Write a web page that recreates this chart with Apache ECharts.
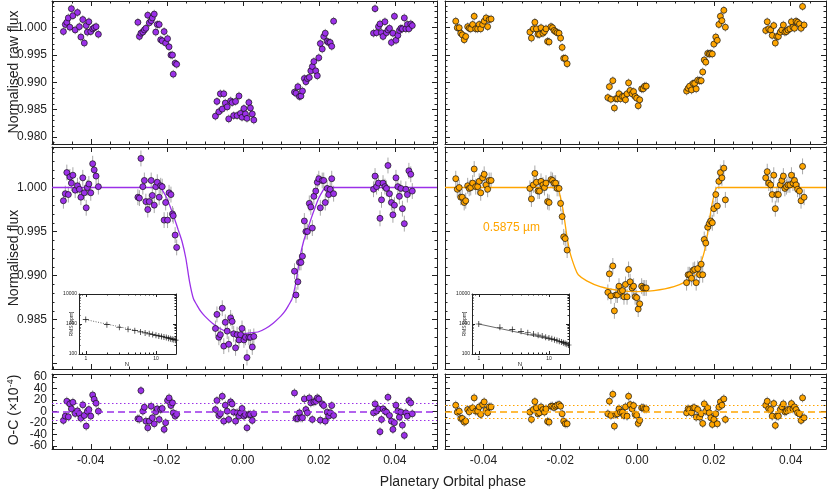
<!DOCTYPE html>
<html>
<head>
<meta charset="utf-8">
<script src="https://cdn.jsdelivr.net/npm/echarts@6/dist/echarts.min.js"></script>
<style>
html, body { margin: 0; padding: 0; background: #fff; }
#chart { width: 830px; height: 491px; }
</style>
</head>
<body>
<div id="chart"></div>
<script>
// Phase of each exposure (left = purple band, right = orange band)
const phaseL = [
  -0.0472,-0.0467,-0.0463,-0.0459,-0.0455,-0.0451,-0.0447,-0.0441,-0.0435,-0.0430,-0.0426,-0.0421,-0.0417,-0.0412,-0.0409,-0.0405,-0.0400,-0.0395,-0.0391,-0.0386,-0.0380,
  -0.0276,-0.0272,-0.0268,-0.0263,-0.0259,-0.0255,-0.0250,-0.0246,-0.0241,-0.0238,-0.0233,-0.0229,-0.0225,-0.0220,-0.0216,-0.0212,-0.0207,-0.0203,-0.0198,-0.0194,-0.0189,-0.0185,-0.0183,-0.0178,-0.0174,
  -0.0072,-0.0068,-0.0063,-0.0059,-0.0054,-0.0050,-0.0046,-0.0041,-0.0037,-0.0032,-0.0028,-0.0024,-0.0019,-0.0015,-0.0010,-0.0006,-0.0002,0.0003,0.0007,0.0011,0.0016,0.0020,0.0025,0.0029,
  0.0136,0.0140,0.0145,0.0149,0.0153,0.0157,0.0162,0.0166,0.0170,0.0175,0.0179,0.0183,0.0187,0.0192,0.0196,0.0200,0.0204,0.0209,0.0213,0.0217,0.0222,0.0226,0.0230,0.0234,0.0239,
  0.0344,0.0348,0.0352,0.0357,0.0361,0.0365,0.0369,0.0374,0.0378,0.0382,0.0386,0.0391,0.0395,0.0399,0.0403,0.0408,0.0412,0.0416,0.0420,0.0425,0.0429,0.0433,0.0437,0.0442,0.0446
];
const rawL = [
  0.9993,1.0006,1.0010,1.0018,1.0001,1.0035,1.0022,0.9996,1.0028,1.0002,0.9983,1.0015,0.9972,1.0004,0.9992,1.0011,0.9993,0.9998,1.0000,1.0002,0.9988,
  1.0010,0.9984,0.9990,0.9992,0.9996,0.9999,1.0023,1.0009,1.0013,1.0018,1.0025,0.9992,1.0006,1.0006,0.9978,0.9976,0.9993,0.9972,0.9980,0.9965,0.9950,0.9950,0.9915,0.9935,0.9933,
  0.9838,0.9865,0.9846,0.9879,0.9851,0.9879,0.9862,0.9855,0.9833,0.9866,0.9863,0.9839,0.9865,0.9839,0.9875,0.9843,0.9836,0.9852,0.9842,0.9834,0.9863,0.9853,0.9842,0.9831,
  0.9882,0.9880,0.9892,0.9874,0.9875,0.9884,0.9907,0.9901,0.9907,0.9909,0.9921,0.9929,0.9938,0.9921,0.9912,0.9945,0.9971,0.9961,0.9984,0.9990,0.9975,0.9973,0.9973,0.9966,1.0012,
  0.9990,1.0035,0.9991,1.0002,1.0007,0.9991,0.9984,1.0011,0.9991,0.9996,0.9999,0.9973,0.9990,1.0021,0.9977,0.9986,0.9995,0.9999,0.9998,1.0018,0.9998,1.0006,0.9998,1.0007,1.0004
];
const fluxL = [
  0.9985,0.9993,1.0017,0.9992,1.0012,1.0005,1.0014,0.9997,1.0002,0.9998,0.9989,1.0011,0.9994,0.9977,1.0000,1.0004,0.9994,1.0027,1.0020,1.0013,1.0001,
  0.9989,0.9988,1.0033,1.0001,1.0008,0.9984,0.9975,0.9984,1.0008,0.9991,0.9980,1.0001,1.0006,0.9989,1.0002,1.0001,0.9963,0.9983,0.9963,0.9994,0.9992,0.9970,0.9968,0.9946,0.9932,
  0.9840,0.9856,0.9830,0.9833,0.9863,0.9820,0.9847,0.9837,0.9822,0.9852,0.9848,0.9834,0.9818,0.9833,0.9827,0.9833,0.9840,0.9827,0.9830,0.9807,0.9830,0.9830,0.9819,0.9831,
  0.9905,0.9878,0.9893,0.9915,0.9915,0.9922,0.9962,0.9950,0.9950,0.9982,0.9978,0.9954,0.9990,0.9996,1.0006,1.0010,0.9977,1.0008,1.0008,0.9983,0.9999,0.9992,0.9998,1.0010,0.9993,
  0.9998,1.0013,1.0001,1.0005,0.9965,0.9986,1.0005,1.0001,0.9999,1.0025,0.9993,0.9983,0.9969,0.9980,1.0011,1.0001,0.9990,0.9999,0.9976,0.9959,0.9998,0.9992,1.0019,1.0015,0.9996
];
const ocL = [
  -15.5,-8,17.8,-9.2,13.2,4.6,16,-3.4,1.1,-4,-11.5,11.5,-6.9,-25.3,0.6,3.4,-8,28.7,21.3,14.4,0.6,
  -12.6,-13.2,36.2,0.6,7.4,-16.7,-28.2,-16.7,9.2,-10.9,-21.3,-0.6,4.6,-13.8,3.4,5.2,-31,-19.5,19,23.6,10.3,15,-2.3,-8,-5,
  3.4,19,-6.9,-4,26.4,-16.7,10.9,0.6,-13.8,16.7,13.2,-1.1,-16.7,-2.3,-8,-2.3,5.2,-8,-5.2,-28.2,-5.2,-5.2,-15.5,-4,
  32.2,-12,-12,-2.3,-10.9,-10.9,21.8,3.4,-2.3,23.6,15,-13.8,16.7,17.8,23.6,21.8,-15,13.2,10.3,-16.7,-1.1,-8,-2.3,10.3,-6.9,
  -2.3,13.2,0.6,4.6,-35,-13.8,4.6,0.6,-1.1,24.7,-6.9,-16.7,-31,-19.5,10.9,0.6,-9.8,-1.1,-23.6,-41.4,-2.3,-8,19,15,-4
];

const phaseR = [
  -0.0472,-0.0468,-0.0463,-0.0459,-0.0455,-0.0450,-0.0446,-0.0441,-0.0437,-0.0433,-0.0428,-0.0424,-0.0420,-0.0415,-0.0411,-0.0407,-0.0402,-0.0398,-0.0393,-0.0389,-0.0385,-0.0380,
  -0.0279,-0.0275,-0.0270,-0.0266,-0.0262,-0.0258,-0.0254,-0.0250,-0.0245,-0.0241,-0.0237,-0.0233,-0.0229,-0.0224,-0.0220,-0.0216,-0.0212,-0.0208,-0.0203,-0.0199,-0.0195,-0.0191,-0.0187,-0.0182,
  -0.0076,-0.0072,-0.0068,-0.0063,-0.0059,-0.0055,-0.0051,-0.0047,-0.0043,-0.0038,-0.0034,-0.0030,-0.0026,-0.0022,-0.0018,-0.0013,-0.0009,-0.0005,-0.0001,0.0003,0.0007,0.0012,0.0016,0.0020,0.0024,
  0.0129,0.0133,0.0137,0.0142,0.0146,0.0150,0.0154,0.0158,0.0163,0.0167,0.0171,0.0175,0.0179,0.0184,0.0188,0.0192,0.0196,0.0200,0.0205,0.0209,0.0213,0.0217,0.0221,0.0226,0.0230,
  0.0335,0.0339,0.0343,0.0348,0.0352,0.0356,0.0360,0.0364,0.0368,0.0373,0.0377,0.0381,0.0385,0.0389,0.0393,0.0398,0.0402,0.0406,0.0410,0.0414,0.0418,0.0423,0.0427,0.0431,0.0435
];
const rawR = [
  1.0012,1.0000,1.0000,0.9990,0.9987,0.9978,0.9984,1.0002,0.9999,0.9998,1.0006,1.0021,0.9998,0.9998,1.0006,0.9998,1.0006,1.0012,1.0018,1.0002,1.0015,1.0016,
  0.9992,0.9981,0.9998,1.0010,0.9998,0.9988,0.9988,1.0000,0.9990,0.9993,0.9998,0.9975,0.9974,1.0002,1.0000,0.9995,0.9993,0.9991,0.9990,0.9981,0.9964,0.9944,0.9944,0.9934,
  0.9872,0.9892,0.9869,0.9903,0.9853,0.9870,0.9870,0.9879,0.9870,0.9874,0.9874,0.9868,0.9879,0.9899,0.9885,0.9879,0.9883,0.9874,0.9871,0.9857,0.9868,0.9888,0.9888,0.9893,0.9893,
  0.9884,0.9889,0.9893,0.9886,0.9898,0.9898,0.9888,0.9904,0.9903,0.9903,0.9919,0.9941,0.9937,0.9953,0.9952,0.9953,0.9952,0.9970,0.9983,0.9977,1.0006,1.0021,1.0013,1.0032,1.0001,
  0.9995,1.0011,0.9998,0.9996,0.9986,1.0004,0.9972,0.9984,0.9984,0.9992,0.9996,1.0005,0.9992,0.9993,0.9996,0.9998,1.0011,1.0001,0.9999,1.0012,1.0010,1.0007,0.9999,1.0039,1.0005
];
const fluxR = [
  1.0010,0.9998,1.0000,0.9989,0.9989,0.9983,0.9985,1.0002,0.9999,1.0000,1.0005,1.0021,1.0001,1.0001,1.0007,0.9994,1.0011,1.0015,1.0003,0.9998,1.0008,1.0008,
  0.9999,0.9987,1.0003,1.0016,1.0006,0.9996,0.9996,1.0007,1.0003,1.0000,1.0005,0.9984,0.9983,1.0009,1.0008,1.0005,1.0005,0.9999,0.9999,0.9982,0.9967,0.9944,0.9942,0.9929,
  0.9881,0.9902,0.9877,0.9911,0.9860,0.9878,0.9878,0.9888,0.9882,0.9883,0.9876,0.9890,0.9876,0.9907,0.9893,0.9886,0.9888,0.9876,0.9875,0.9862,0.9868,0.9888,0.9886,0.9886,0.9886,
  0.9892,0.9901,0.9901,0.9897,0.9906,0.9907,0.9892,0.9908,0.9901,0.9913,0.9901,0.9941,0.9937,0.9955,0.9959,0.9962,0.9960,0.9976,0.9992,0.9979,1.0007,1.0017,1.0011,1.0022,0.9986,
  1.0011,1.0018,1.0005,1.0003,0.9992,1.0014,0.9976,0.9992,0.9992,1.0003,1.0008,1.0013,0.9999,1.0001,1.0003,1.0003,1.0014,1.0005,1.0008,1.0003,0.9998,0.9996,0.9985,1.0024,0.9989
];
const ocR = [
  10.9,-1.1,0.6,-12,-12,-18.4,-16.7,3.4,-0.6,3.4,6.3,23.6,0.6,0.6,8,-5.2,12,16.7,2.3,-2.3,8,8,
  -1.1,-13.8,3.4,17.2,6.3,-4,-2.3,8,3.4,-1.1,4.6,-17.2,-18.4,9.2,9.2,7,9.2,10.9,12,9.2,-4,-16.7,-21.3,-21.3,
  -4,17.8,-6.9,29.9,-25.3,-5.2,-4,4.6,-1.1,-1.1,-6.9,8,-8,26.4,12,4.6,10.3,-5.2,-6.3,-20.7,-15.5,6.3,6.3,4.6,4.6,
  -2.3,4.6,3.4,-2.3,6.3,6.3,-9.8,3.4,-9.8,-4,-20.7,13.2,0.6,6.3,-2.3,-10.9,-22.4,-13.8,-4,-21.3,7.4,16.7,10.9,21.8,-13.8,
  10.9,17.8,4.6,3.4,-8,13.8,-24.1,-8,-8,3.4,8,13.2,-0.6,0.6,3.4,3.4,13.8,4.6,8,3.4,-2.3,-4,-15.5,23.6,-10.9
];

// transit models
const modelPhaseL = [-0.0502,-0.0218,-0.0210,-0.0200,-0.0190,-0.0180,-0.0170,-0.0160,-0.0150,-0.0140,-0.0130,-0.0120,-0.0110,-0.0100,-0.0080,-0.0060,-0.0040,-0.0020,0.0000,0.0020,0.0040,0.0060,0.0080,0.0100,0.0110,0.0120,0.0130,0.0140,0.0150,0.0160,0.0170,0.0180,0.0190,0.0200,0.0210,0.0218,0.0511];
const modelFluxL = [1.0,1.0,0.9996,0.9988,0.9977,0.9965,0.9952,0.9939,0.9920,0.9893,0.9874,0.9866,0.9859,0.9854,0.9846,0.9840,0.9836,0.9835,0.9834,0.9835,0.9836,0.9840,0.9846,0.9854,0.9859,0.9866,0.9874,0.9893,0.9920,0.9939,0.9952,0.9965,0.9977,0.9988,0.9996,1.0,1.0];
const modelPhaseR = [-0.0500,-0.0209,-0.0200,-0.0192,-0.0183,-0.0175,-0.0161,-0.0153,-0.0131,-0.0096,-0.0044,0.0000,0.0044,0.0096,0.0131,0.0153,0.0161,0.0175,0.0183,0.0192,0.0200,0.0209,0.0492];
const modelFluxR = [1.0,1.0,0.9990,0.9973,0.9946,0.9927,0.9908,0.9901,0.9894,0.98875,0.9883,0.98818,0.9883,0.98875,0.9894,0.9901,0.9908,0.9927,0.9946,0.9973,0.9990,1.0,1.0];

// error bar half-lengths and O-C scatter lines
const errRaw = 0.0008;
const errFlux = 0.0009;
const errOC = 8;
const ocSigL = 15;
const ocSigR = 11;

// inset: binned rms vs bin size
const binN = [1,2,3,4,5,6,7,8,9,10,11,12,13,14,15,16,17,18,19];
const rmsL = [1400,950,780,670,600,545,505,470,445,420,400,385,368,352,338,325,312,300,290];
const rmsR = [1000,780,660,570,510,460,425,395,365,340,320,300,282,266,252,238,225,212,200];
const expN = [1, 19.3];
const expL = [1400, 319];
const expR = [1000, 228];

const PURPLE = '#9b30e8';
const ORANGE = '#ffa500';
const AXC = '#222';
const FONT = 'Liberation Sans';

function pts(xs, ys, e) {
  return xs.map((x, i) => e === undefined ? [x, ys[i]] : [x, ys[i], e]);
}

const grid = [], xAxis = [], yAxis = [], series = [];

function mkAxis(gi, pos, type, range, split, len, line, label) {
  return {
    gridIndex: gi, type: type, position: pos, min: range[0], max: range[1], splitNumber: split,
    axisLine: { show: line, onZero: false, lineStyle: { color: AXC, width: 1 } },
    axisTick: { show: true, inside: true, length: len, lineStyle: { color: AXC, width: 1 } },
    axisLabel: label || { show: false },
    splitLine: { show: false }
  };
}

// one framed panel: ticks mirrored on all four sides
function box(rect, xr, yr, xs, ys, xLab, yLab) {
  const gi = grid.length;
  grid.push(rect);
  const xi = xAxis.length, yi = yAxis.length;
  xAxis.push(mkAxis(gi, 'bottom', 'value', xr, xs[0], 5, true, xLab));
  xAxis.push(mkAxis(gi, 'bottom', 'value', xr, xs[1], 2.5, false));
  xAxis.push(mkAxis(gi, 'top', 'value', xr, xs[0], 5, true));
  xAxis.push(mkAxis(gi, 'top', 'value', xr, xs[1], 2.5, false));
  yAxis.push(mkAxis(gi, 'left', 'value', yr, ys[0], 5, true, yLab));
  yAxis.push(mkAxis(gi, 'left', 'value', yr, ys[1], 2.5, false));
  yAxis.push(mkAxis(gi, 'right', 'value', yr, ys[0], 5, true));
  yAxis.push(mkAxis(gi, 'right', 'value', yr, ys[1], 2.5, false));
  return { xi: xi, yi: yi };
}

const labStyle = { show: true, fontFamily: FONT, fontSize: 12, color: AXC };
const xLab = Object.assign({}, labStyle, { margin: 6, formatter: function (v) {
  const k = Math.round(v * 100);
  if (Math.abs(v * 100 - k) > 1e-6 || k % 2) return '';
  return k === 0 ? '0.00' : v.toFixed(2);
} });
function fluxLab(lowest) {
  return Object.assign({}, labStyle, { margin: 5, formatter: function (v) {
    const k = Math.round(v * 1000);
    return (Math.abs(v * 1000 - k) < 1e-6 && k % 5 === 0 && v > lowest) ? v.toFixed(3) : '';
  } });
}
const ocLab = Object.assign({}, labStyle, { margin: 5, formatter: function (v) {
  const k = Math.round(v);
  return (Math.abs(v - k) < 1e-6 && k % 20 === 0) ? String(k) : '';
} });

const xrL = [-0.0502, 0.0511], xrR = [-0.0500, 0.0492];
const yrRaw = [0.9787, 1.0049], yrFlux = [0.9794, 1.0046], yrOC = [-65, 65];

const tl = box({ left: 52, top: 1, width: 385, height: 143 }, xrL, yrRaw, [5, 20], [5, 26], null, fluxLab(0.975));
const tr = box({ left: 445, top: 1, width: 381, height: 143 }, xrR, yrRaw, [5, 20], [5, 26], null, null);
const ml = box({ left: 52, top: 147, width: 385, height: 222 }, xrL, yrFlux, [5, 20], [5, 25], null, fluxLab(0.9825));
const mr = box({ left: 445, top: 147, width: 381, height: 222 }, xrR, yrFlux, [5, 20], [5, 25], null, null);
const bl = box({ left: 52, top: 374, width: 385, height: 75 }, xrL, yrOC, [5, 20], [6, 13], xLab, ocLab);
const br = box({ left: 445, top: 374, width: 381, height: 75 }, xrR, yrOC, [5, 20], [6, 13], xLab, null);

function errBar(params, api) {
  const x = api.value(0), y = api.value(1), e = api.value(2);
  const a = api.coord([x, y - e]), b = api.coord([x, y + e]);
  return { type: 'line', shape: { x1: a[0], y1: a[1], x2: b[0], y2: b[1] },
           style: { stroke: '#a8a8a8', lineWidth: 1 } };
}

function points(ax, xs, ys, err, color, extra) {
  series.push({ type: 'custom', xAxisIndex: ax.xi, yAxisIndex: ax.yi, data: pts(xs, ys, err),
                renderItem: errBar, silent: true, z: 2 });
  series.push(Object.assign({ type: 'scatter', xAxisIndex: ax.xi, yAxisIndex: ax.yi, data: pts(xs, ys),
                symbol: 'circle', symbolSize: 6, silent: true, z: 4,
                itemStyle: { color: color, borderColor: '#111', borderWidth: 0.7, opacity: 1 } }, extra || {}));
}

function model(ax, xs, ys, color) {
  series.push({ type: 'line', xAxisIndex: ax.xi, yAxisIndex: ax.yi, data: pts(xs, ys), symbol: 'none',
                smooth: 0.25, silent: true, z: 3, lineStyle: { color: color, width: 1.3 } });
}

function ocLines(color, sig) {
  return { markLine: { silent: true, symbol: 'none', label: { show: false }, animation: false,
    lineStyle: { color: color },
    data: [
      { yAxis: 0, lineStyle: { color: color, type: [7, 4], width: 1.5 } },
      { yAxis: sig, lineStyle: { color: color, type: [1.5, 2.5], width: 1 } },
      { yAxis: -sig, lineStyle: { color: color, type: [1.5, 2.5], width: 1 } }
    ] } };
}

points(tl, phaseL, rawL, errRaw, PURPLE);
points(tr, phaseR, rawR, errRaw, ORANGE);
model(ml, modelPhaseL, modelFluxL, PURPLE);
model(mr, modelPhaseR, modelFluxR, ORANGE);
points(ml, phaseL, fluxL, errFlux, PURPLE);
points(mr, phaseR, fluxR, errFlux, ORANGE);
points(bl, phaseL, ocL, errOC, PURPLE, ocLines(PURPLE, ocSigL));
points(br, phaseR, ocR, errOC, ORANGE, ocLines(ORANGE, ocSigR));

// insets (log-log)
const pow10 = v => Math.abs(Math.log10(v) - Math.round(Math.log10(v))) < 1e-6;
const tinyLab = { show: true, fontFamily: FONT, fontSize: 5, color: AXC, margin: 2,
                  formatter: v => pow10(v) ? String(Math.round(v)) : '' };

function inset(rect, rms, expY, dashed) {
  const gi = grid.length;
  grid.push(Object.assign({ show: true, backgroundColor: '#fff', borderWidth: 0 }, rect));
  const xi = xAxis.length, yi = yAxis.length;
  const xr = [0.8, 19.3], yr = [100, 10000];
  const minor = { show: true, splitNumber: 9, length: 1.5, lineStyle: { color: AXC } };
  const lx = mkAxis(gi, 'bottom', 'log', xr, 5, 3, true, tinyLab);
  lx.minorTick = minor;
  xAxis.push(lx);
  const tx = mkAxis(gi, 'top', 'log', xr, 5, 3, true);
  tx.minorTick = minor;
  xAxis.push(tx);
  const ly = mkAxis(gi, 'left', 'log', yr, 5, 3, true, tinyLab);
  ly.minorTick = minor;
  yAxis.push(ly);
  const ry = mkAxis(gi, 'right', 'log', yr, 5, 3, true);
  ry.minorTick = minor;
  yAxis.push(ry);
  series.push({ type: 'line', xAxisIndex: xi, yAxisIndex: yi, data: pts(expN, expY), symbol: 'none',
                silent: true, z: 6, lineStyle: { color: '#444', width: 0.8, type: dashed ? [1, 1.5] : 'solid' } });
  series.push({ type: 'scatter', xAxisIndex: xi, yAxisIndex: yi, data: pts(binN, rms), silent: true, z: 7,
                symbol: 'path://M4,0H5V4H9V5H5V9H4V5H0V4H4Z', symbolSize: 6,
                itemStyle: { color: '#111', opacity: 1 } });
}
inset({ left: 79, top: 294, width: 97, height: 60 }, rmsL, expL, true);
inset({ left: 472, top: 294, width: 97, height: 60 }, rmsR, expR, false);

function vtext(txt, x, y, size, extra) {
  return Object.assign({ type: 'text', x: x, y: y, rotation: Math.PI / 2, z: 10, silent: true,
    style: { text: txt, fontFamily: FONT, fontSize: size, fill: AXC,
             align: 'center', verticalAlign: 'middle', textAlign: 'center', textVerticalAlign: 'middle' } }, extra || {});
}

const ocTitle = vtext('{a|O-C (×10}{b|-4}{a|)}', 14, 410, 14);
ocTitle.style.rich = {
  a: { fontFamily: FONT, fontSize: 14, fill: AXC },
  b: { fontFamily: FONT, fontSize: 9, fill: AXC, verticalAlign: 'top', padding: [0, 0, 6, 0] }
};

const chart = echarts.init(document.getElementById('chart'), null, { renderer: 'canvas' });
chart.setOption({
  animation: false,
  backgroundColor: '#fff',
  grid: grid,
  xAxis: xAxis,
  yAxis: yAxis,
  series: series,
  graphic: [
    vtext('Normalised raw flux', 14, 72, 14),
    vtext('Normalised flux', 14, 258, 14),
    ocTitle,
    { type: 'text', x: 453, y: 482, silent: true,
      style: { text: 'Planetary Orbital phase', fontFamily: FONT, fontSize: 14, fill: AXC,
               align: 'center', verticalAlign: 'middle', textAlign: 'center', textVerticalAlign: 'middle' } },
    { type: 'text', x: 483, y: 228, silent: true,
      style: { text: '0.5875 µm', fontFamily: FONT, fontSize: 12, fill: ORANGE,
               align: 'left', verticalAlign: 'middle', textAlign: 'left', textVerticalAlign: 'middle' } },
    vtext('RMS [ppm]', 72, 324, 5),
    vtext('RMS [ppm]', 465, 324, 5),
    { type: 'text', x: 127, y: 364, silent: true,
      style: { text: 'N', fontFamily: FONT, fontSize: 6, fill: AXC, align: 'center', verticalAlign: 'middle' } },
    { type: 'text', x: 520, y: 364, silent: true,
      style: { text: 'N', fontFamily: FONT, fontSize: 6, fill: AXC, align: 'center', verticalAlign: 'middle' } }
  ]
});
</script>
</body>
</html>
